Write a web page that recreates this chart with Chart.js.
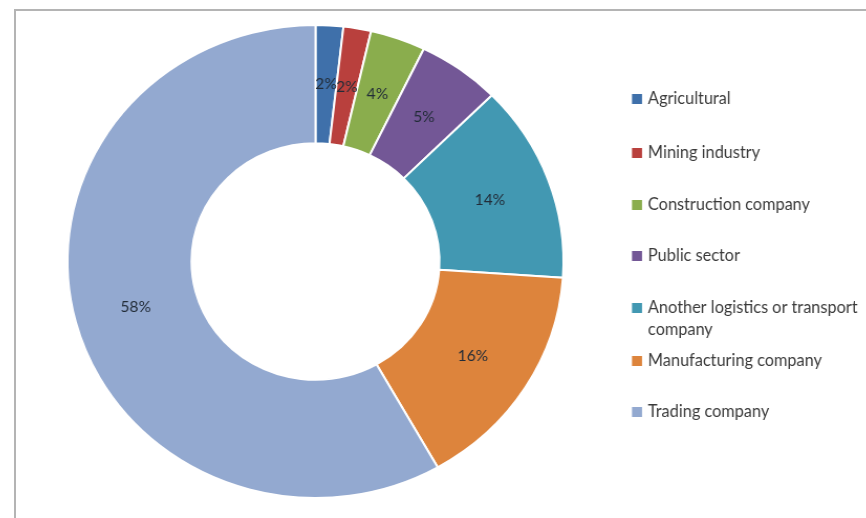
<!DOCTYPE html>
<html>
<head>
  <meta charset="UTF-8">
  <title>Customer sectors</title>
  <script src="https://cdn.jsdelivr.net/npm/chart.js"></script>
  <style>
    html, body { margin: 0; padding: 0; background: #fff; }
    body { width: 866px; height: 518px; position: relative; overflow: hidden; }
    /* grey frame, open to the right and bottom */
    .frame {
      position: absolute; left: 14px; top: 9px; width: 900px; height: 600px;
      border-left: 2px solid #b4b4b4; border-top: 2px solid #b4b4b4;
    }
    /* ring is a touch wider than tall; text is un-stretched in the plugins */
    #chart { position: absolute; left: 0; top: 0; transform-origin: 315.5px 0; transform: scaleX(1.0485); }
  </style>
</head>
<body>
  <div class="frame"></div>
  <canvas id="chart" width="866" height="518"></canvas>

  <script>
    // sectors, in drawing order (clockwise from 12 o'clock)
    const sectors = [
      'Agricultural',
      'Mining industry',
      'Construction company',
      'Public sector',
      ['Another logistics or transport', 'company'],
      'Manufacturing company',
      'Trading company'
    ];
    // share of respondents, %
    const shares = [1.8, 1.8, 3.6, 5.4, 13.5, 15.7, 58.2];
    const colours = ['#3f70aa', '#b9403d', '#8aad4d', '#735796', '#4298b2', '#dd843c', '#93a9d0'];

    const total = shares.reduce((a, b) => a + b, 0);
    const SX = 1.0485, OX = 315.5;
    // canvas x that lands on screen x after the css stretch
    const toCanvasX = x => OX + (x - OX) / SX;

    function plainText(ctx, text, x, y) {
      ctx.save();
      ctx.translate(x, y);
      ctx.scale(1 / SX, 1);
      ctx.fillText(text, 0, 0);
      ctx.restore();
    }

    // percent labels in the middle of each ring segment
    const sliceLabels = {
      id: 'sliceLabels',
      afterDatasetsDraw(chart) {
        const ctx = chart.ctx;
        const meta = chart.getDatasetMeta(0);
        ctx.save();
        ctx.font = '15.5px Lato';
        ctx.fillStyle = '#222c38';
        ctx.textAlign = 'center';
        ctx.textBaseline = 'middle';
        meta.data.forEach((arc, i) => {
          const p = arc.tooltipPosition();
          plainText(ctx, Math.round(shares[i] / total * 100) + '%', p.x, p.y);
        });
        ctx.restore();
      }
    };

    // legend on the right, one entry per slice
    const sideLegend = {
      id: 'sideLegend',
      afterDraw(chart) {
        const ctx = chart.ctx;
        const rowYs = [99, 153, 205, 256, 308, 361, 412];
        ctx.save();
        ctx.font = '16.3px Lato';
        ctx.textBaseline = 'middle';
        chart.data.labels.forEach((lab, i) => {
          const y = rowYs[i];
          ctx.fillStyle = colours[i];
          ctx.fillRect(toCanvasX(632), y - 5, 10 / SX, 10);
          ctx.fillStyle = '#3a3a3a';
          const lines = Array.isArray(lab) ? lab : [lab];
          lines.forEach((t, k) => plainText(ctx, t, toCanvasX(648), y + k * 22));
        });
        ctx.restore();
      }
    };

    new Chart(document.getElementById('chart'), {
      type: 'doughnut',
      data: {
        labels: sectors,
        datasets: [{
          data: shares,
          backgroundColor: colours,
          borderColor: '#ffffff',
          borderWidth: 2
        }]
      },
      options: {
        responsive: false,
        animation: false,
        cutout: '50%',
        layout: { padding: { left: 78, right: 313, top: 24, bottom: 19 } },
        plugins: {
          legend: { display: false },
          tooltip: { enabled: false }
        }
      },
      plugins: [sliceLabels, sideLegend]
    });
  </script>
</body>
</html>
